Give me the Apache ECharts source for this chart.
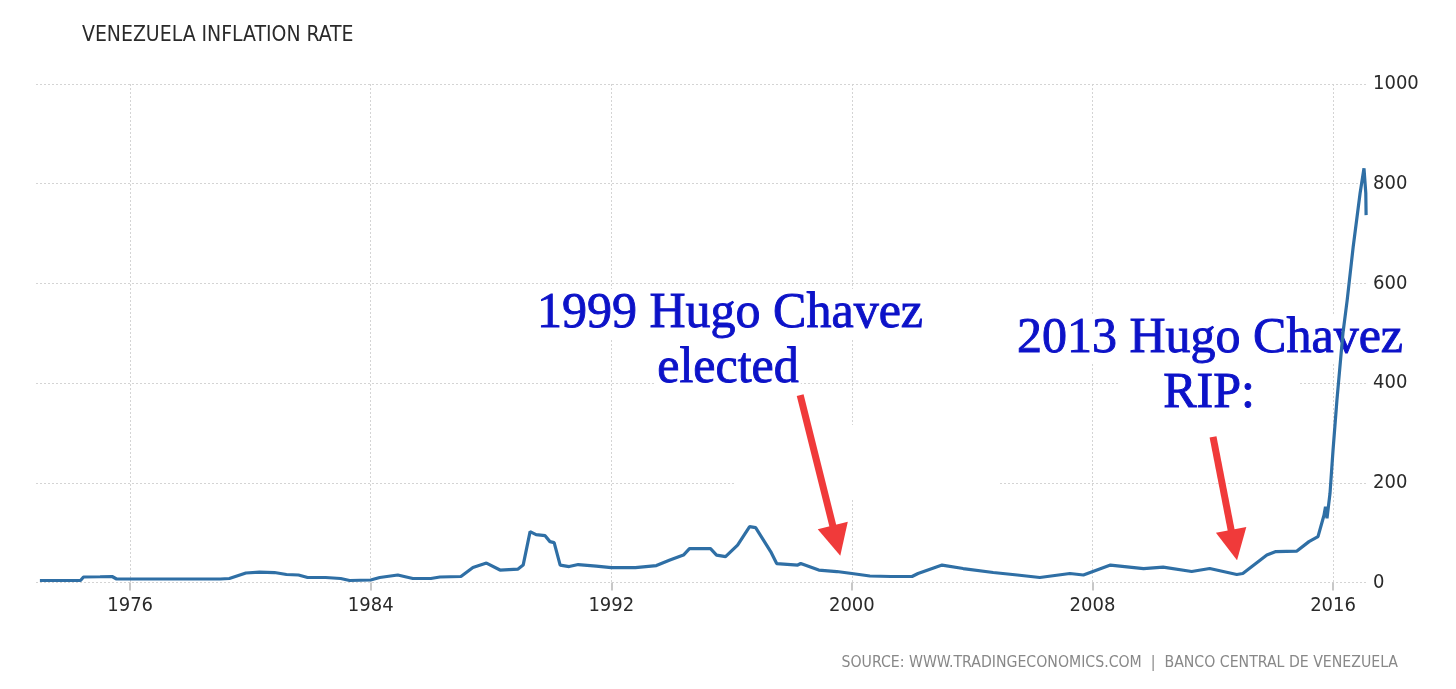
<!DOCTYPE html>
<html>
<head>
<meta charset="utf-8">
<script src="https://cdn.jsdelivr.net/npm/echarts@6/dist/echarts.min.js"></script>
<style>
html,body{margin:0;padding:0;background:#fff;}
#chart{width:1456px;height:689px;}
</style>
</head>
<body>
<div id="chart"></div>
<script>
// ---- data ----
const years = [1973.0,1973.5,1974.0,1974.35,1974.45,1975.0,1975.4,1975.55,1976.0,1977.0,1978.0,1979.0,1979.3,1979.6,1979.85,1980.3,1980.8,1981.2,1981.6,1981.9,1982.5,1983.0,1983.3,1984.0,1984.3,1984.9,1985.4,1986.0,1986.3,1987.0,1987.4,1987.85,1988.3,1988.9,1989.07,1989.3,1989.5,1989.8,1989.96,1990.1,1990.3,1990.6,1990.9,1991.5,1992.0,1992.8,1993.5,1993.95,1994.4,1994.6,1995.3,1995.5,1995.8,1996.2,1996.6,1996.8,1997.3,1997.5,1998.2,1998.3,1998.9,1999.5,2000.0,2000.6,2001.3,2002.0,2002.2,2003.0,2003.7,2004.7,2005.5,2006.25,2007.25,2007.7,2008.6,2009.7,2010.35,2011.3,2011.9,2012.8,2013.0,2013.8,2014.1,2014.8,2015.2,2015.5,2015.7,2015.75,2015.8,2015.9,2016.0,2016.13,2016.33,2016.47,2016.67,2016.9,2017.03,2017.09,2017.1];
const inflation = [4,4,4,4,11,11.5,12,7,7,7,7,7,8,14,19,21,20,16,15,10,10,8,4,5,10,15,8,8,11,12,30,39,25,27,35,102,96,94,82,80,35,32,36,33,30,30,34,45,55,68,68,55,52,75,112,110,62,38,35,38,25,22,18,13,12,12,18,35,28,20,15,10,18,15,35,28,31,22,28,16,18,55,62,63,82,92,135,152,129,179,265,366,500,566,673,781,831,781,737];
const xTickYears = [1976,1984,1992,2000,2008,2016];
const yTicks = [0,200,400,600,800,1000];
const titleText = 'VENEZUELA INFLATION RATE';
const sourceText = 'SOURCE: WWW.TRADINGECONOMICS.COM  |  BANCO CENTRAL DE VENEZUELA';
const note1 = ['1999 Hugo Chavez', 'elected'];
const note2 = ['2013 Hugo Chavez', 'RIP:'];
// arrows: [tailYear, tailValue, headYear, headValue]
const arrow1 = [1998.28, 376, 1999.49, 84];
const arrow2 = [2012.01, 292, 2012.71, 75];

const chart = echarts.init(document.getElementById('chart'));
const seriesData = years.map((y, i) => [y, inflation[i]]);
const labelFont = '"DejaVu Sans Condensed", "DejaVu Sans", sans-serif';
const blue = '#0c12c8';
const serif = '"Liberation Serif", "Times New Roman", serif';

function noteText(txt, x, y, pad) {
  return {
    type: 'text', z: 1, x: x, y: y,
    style: {
      text: txt, font: '50px ' + serif, fill: blue,
      stroke: blue, lineWidth: 0.9,
      align: 'center', verticalAlign: 'middle',
      backgroundColor: '#fff', padding: pad || [0, 2]
    }
  };
}

const option = {
  backgroundColor: '#fff',
  animation: false,
  grid: { left: 36, right: 89, top: 84, bottom: 106.5, containLabel: false },
  xAxis: {
    type: 'value', min: 1972.87, max: 2017.13,
    axisLine: { show: false },
    axisTick: { show: true, customValues: xTickYears, length: 8, lineStyle: { color: '#c8c8c8', width: 2 } },
    axisLabel: { customValues: xTickYears, formatter: v => String(v), margin: 13,
      fontFamily: labelFont, fontSize: 20, color: '#2a2a2a' },
    splitLine: { show: true, lineStyle: { color: '#d4d4d4', type: [2, 2], width: 1 } }
  },
  yAxis: {
    type: 'value', position: 'right', min: 0, max: 1000, interval: 200,
    axisLine: { show: false }, axisTick: { show: false },
    axisLabel: { formatter: v => String(v), margin: 6, fontFamily: labelFont, fontSize: 20, color: '#2a2a2a' },
    splitLine: { show: true, lineStyle: { color: '#d4d4d4', type: [2, 2], width: 1 } }
  },
  series: [{
    type: 'line', data: seriesData, showSymbol: false, z: 2,
    lineStyle: { color: '#2f6fa5', width: 3.2 },
    itemStyle: { color: '#2f6fa5' },
    markLine: {
      silent: true, symbol: ['none', 'triangle'], symbolSize: 31,
      label: { show: false },
      lineStyle: { color: '#f03a3a', width: 7, type: 'solid' },
      emphasis: { disabled: true },
      data: [
        [{ coord: [arrow1[0], arrow1[1]] }, { coord: [arrow1[2], arrow1[3]] }],
        [{ coord: [arrow2[0], arrow2[1]] }, { coord: [arrow2[2], arrow2[3]] }]
      ]
    }
  }],
  graphic: [
    { type: 'text', left: 82, top: 25, style: { text: titleText, font: '21px ' + labelFont, fill: '#2a2a2a' } },
    { type: 'text', right: 58, top: 655, style: { text: sourceText, font: '15.7px ' + labelFont, fill: '#888' } },
    { type: 'rect', z: 1, shape: { x: 735, y: 425, width: 265, height: 75 }, style: { fill: '#fff' } },
    noteText(note1[0], 730, 314),
    noteText(note1[1], 728, 369),
    noteText(note2[0], 1210, 339),
    noteText(note2[1], 1209, 394, [0, 44])
  ]
};
chart.setOption(option);
</script>
</body>
</html>
